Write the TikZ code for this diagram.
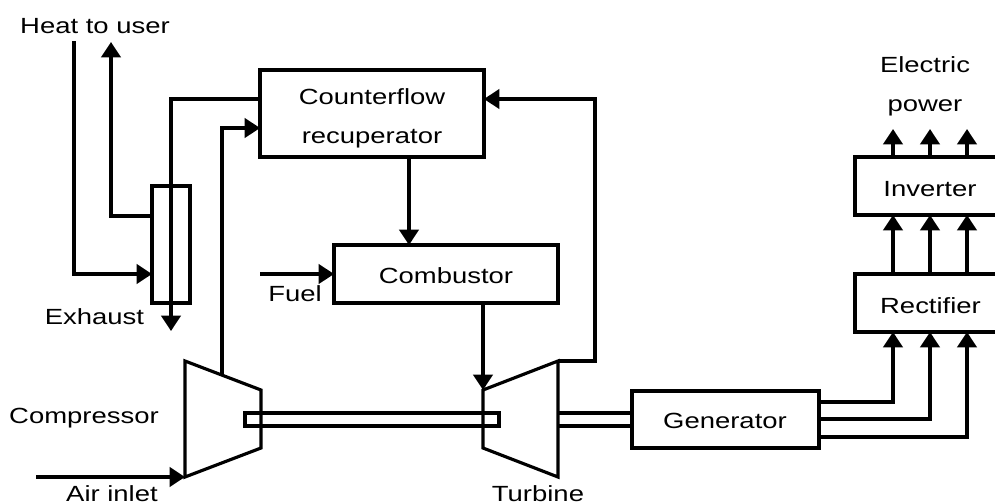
\documentclass[tikz,border=0pt]{standalone}
\usepackage{fontspec}
\setmainfont[FakeStretch=1.25]{Liberation Sans}
\usetikzlibrary{arrows.meta}
\tikzset{
  unit box/.style={rectangle,draw,line width=1.9pt,outer sep=0pt,inner sep=0pt,align=center},
  flow line/.style={line width=1.9pt},
  flow edge/.style={flow line,-{Triangle[length=3.1mm,width=3.9mm]}},
  thin part/.style={line width=1.8pt,line join=miter},
  plant label/.style={anchor=base,inner sep=0pt,font=\fontsize{12.5}{14}\selectfont},
}

\begin{document}
\begin{tikzpicture}[x=0.02cm,y=-0.02cm]
  \clip (0,0) rectangle (995,504);
  % boxes
  \node[unit box,minimum width=4.48cm,minimum height=1.74cm] (recup) at (372,113.5) {};
  \node[unit box,minimum width=4.48cm,minimum height=1.16cm] (comb) at (446,274) {};
  \node[unit box,minimum width=0.76cm,minimum height=2.34cm] (hx) at (171,244.5) {};
  \node[unit box,minimum width=3.74cm,minimum height=1.14cm] (gen) at (725.5,419.5) {};
  \node[unit box,minimum width=3.2cm,minimum height=1.16cm] (inv) at (935,186) {};
  \node[unit box,minimum width=3.2cm,minimum height=1.16cm] (rect) at (935,303) {};
  % compressor and turbine
  \coordinate (c1) at (185,361);
  \coordinate (c2) at (261,390);
  \coordinate (c3) at (261,448);
  \coordinate (c4) at (185,477);
  \coordinate (t1) at (483,390);
  \coordinate (t2) at (558,361);
  \coordinate (t3) at (558,477);
  \coordinate (t4) at (483,448);
  \draw[thin part] (c1) -- (c2) -- (c3) -- (c4) -- cycle;
  \draw[thin part] (t1) -- (t2) -- (t3) -- (t4) -- cycle;
  \node[unit box,line width=1.8pt,minimum width=5.08cm,minimum height=0.26cm] (shaft) at (372,419.5) {};
  % free ends
  \coordinate (heatin) at (74,41);
  \coordinate (heatout) at (111,42);
  \coordinate (hxa) at (hx.west |- 0,216);
  \coordinate (hxb) at (hx.west |- 0,274);
  \coordinate (exh) at (171,331);
  \coordinate (recupa) at (recup.west |- 0,99);
  \coordinate (recupb) at (recup.west |- 0,128);
  \coordinate (recupc) at (recup.east |- 0,99);
  \coordinate (compout) at (222,375);
  \coordinate (airin) at (36,477);
  \coordinate (fuelin) at (260,274);
  % heat exchanger side
  \draw[flow edge] (heatin) |- (hxb);
  \draw[flow edge] (hxa) -| (heatout);
  \draw[flow edge] (recupa) -| (exh);
  \draw[flow edge] (compout) |- (recupb);
  \draw[flow edge] (airin) -- (c4);
  \draw[flow edge] (fuelin) -- (comb.west);
  \draw[flow edge] (recup.south -| 409,0) -- (comb.north -| 409,0);
  \draw[flow edge] (comb.south -| t1) -- (t1);
  \draw[flow edge] (t2) -- (595,361) |- (recupc);
  % shaft to generator
  \draw[thin part] (558,413) -- (gen.west |- 0,413);
  \draw[thin part] (558,426) -- (gen.west |- 0,426);
  % electric side
  \foreach \px/\py in {893/402,930/419,967/437} {
    \draw[flow edge] (gen.east |- 0,\py) -| (rect.south -| \px,0);
    \draw[flow edge] (rect.north -| \px,0) -- (inv.south -| \px,0);
    \draw[flow edge] (inv.north -| \px,0) -- (\px,129);
  }
  % labels
  \node[plant label] (heatlabel) at (95,33) {Heat to user};
  \node[plant label] (counterlabel) at (372,104) {Counterflow};
  \node[plant label] (recuplabel) at (372,143) {recuperator};
  \node[plant label] (comblabel) at (446,283) {Combustor};
  \node[plant label] (fuellabel) at (295,301) {Fuel};
  \node[plant label] (exhlabel) at (94.5,324) {Exhaust};
  \node[plant label] (complabel) at (84,423) {Compressor};
  \node[plant label] (airlabel) at (112,501) {Air inlet};
  \node[plant label] (turblabel) at (538,501) {Turbine};
  \node[plant label] (genlabel) at (725,428) {Generator};
  \node[plant label] (invlabel) at (930,196) {Inverter};
  \node[plant label] (rectlabel) at (930.5,313) {Rectifier};
  \node[plant label] (eleclabel) at (925,72) {Electric};
  \node[plant label] (powerlabel) at (925,111) {power};
\end{tikzpicture}
\end{document}
